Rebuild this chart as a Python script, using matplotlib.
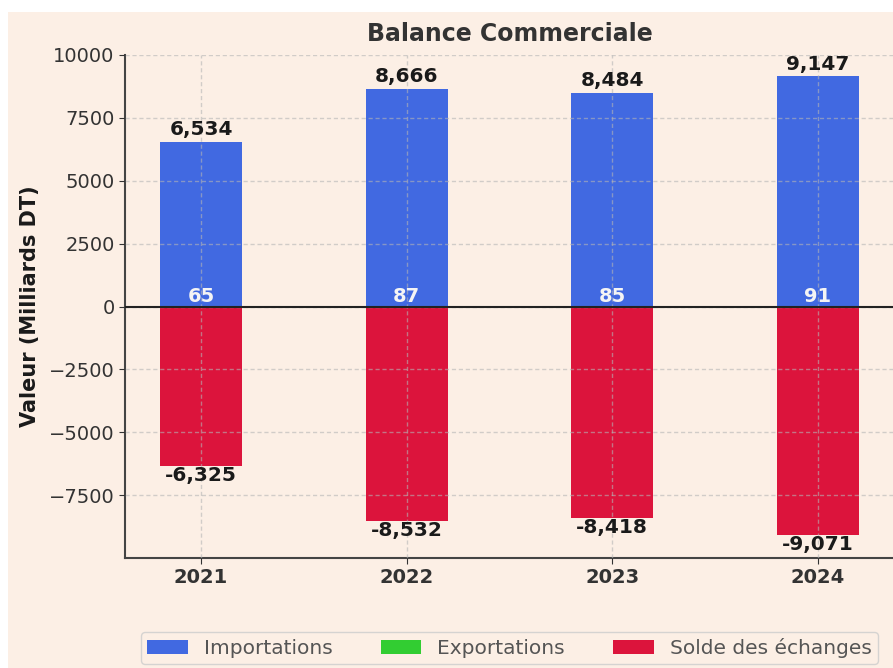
import numpy as np
import matplotlib.pyplot as plt
from matplotlib.patches import Rectangle

# données (milliards DT)
annees = ["2021", "2022", "2023", "2024"]
importations = [6534, 8666, 8484, 9147]
exportations = [65, 87, 85, 91]
solde = [-6325, -8532, -8418, -9071]

fond = "#fcefe5"
bleu = "#4169e1"
vert = "#32cd32"
rouge = "#dc143c"

fig = plt.figure(figsize=(8.93, 6.68), dpi=100)
fig.patch.set_facecolor("white")
fig.patches.append(Rectangle((8 / 893, 0), 1, (668 - 12) / 668, transform=fig.transFigure,
                             facecolor=fond, edgecolor="none", zorder=-10))

ax = fig.add_axes([125 / 893, 110 / 668, 769 / 893, 503 / 668])
ax.set_facecolor(fond)

x = np.arange(len(annees))
w = 0.4
ax.bar(x, exportations, w, color=vert, label="Exportations", zorder=1)
ax.bar(x, importations, w, color=bleu, label="Importations", zorder=1)
ax.bar(x, solde, w, color=rouge, label="Solde des échanges", zorder=1)

for i in range(len(annees)):
    ax.annotate(f"{importations[i]:,}", (x[i], importations[i]), xytext=(0, 2),
                textcoords="offset points", ha="center", va="bottom",
                fontsize=14.5, fontweight="bold", color="#1a1a1a", zorder=5)
    ax.annotate(f"{exportations[i]:,}", (x[i], exportations[i]), xytext=(0, -1),
                textcoords="offset points", ha="center", va="bottom",
                fontsize=14, fontweight="bold", color="#f4f4f4", zorder=5)
    ax.annotate(f"{solde[i]:,}", (x[i], solde[i]), xytext=(0, 0),
                textcoords="offset points", ha="center", va="top",
                fontsize=14.5, fontweight="bold", color="#1a1a1a", zorder=5)

ax.axhline(0, color="#222222", lw=1.5, zorder=3)
ax.set_ylim(-10000, 10000)
ax.set_yticks([10000, 7500, 5000, 2500, 0, -2500, -5000, -7500])
ax.set_xticks(x)
ax.set_xticklabels(annees, fontweight="bold")
ax.tick_params(labelsize=14, colors="#333333", length=4)
ax.grid(True, linestyle=(0, (3, 2)), color="#b5b5b5", alpha=0.6, lw=1, zorder=2)
ax.set_axisbelow(False)

for s in ["top", "right"]:
    ax.spines[s].set_visible(False)
for s in ["left", "bottom"]:
    ax.spines[s].set_color("#444444")
    ax.spines[s].set_linewidth(1.5)

ax.set_title("Balance Commerciale", fontsize=17, fontweight="bold", color="#333333", pad=10)
ax.set_ylabel("Valeur (Milliards DT)", fontsize=15, fontweight="bold", color="#1a1a1a", labelpad=6)

handles, labels = ax.get_legend_handles_labels()
order = [1, 0, 2]
leg = ax.legend([handles[k] for k in order], [labels[k] for k in order], loc="upper center",
                bbox_to_anchor=(0.5, -0.147), borderaxespad=0, borderpad=0.3, ncol=3,
                fontsize=14.5, frameon=True, facecolor=fond, edgecolor="#cccccc",
                columnspacing=2.4, handlelength=2.0)
for t in leg.get_texts():
    t.set_color("#555555")

fig.savefig("out.png", dpi=100, facecolor=fig.get_facecolor())
